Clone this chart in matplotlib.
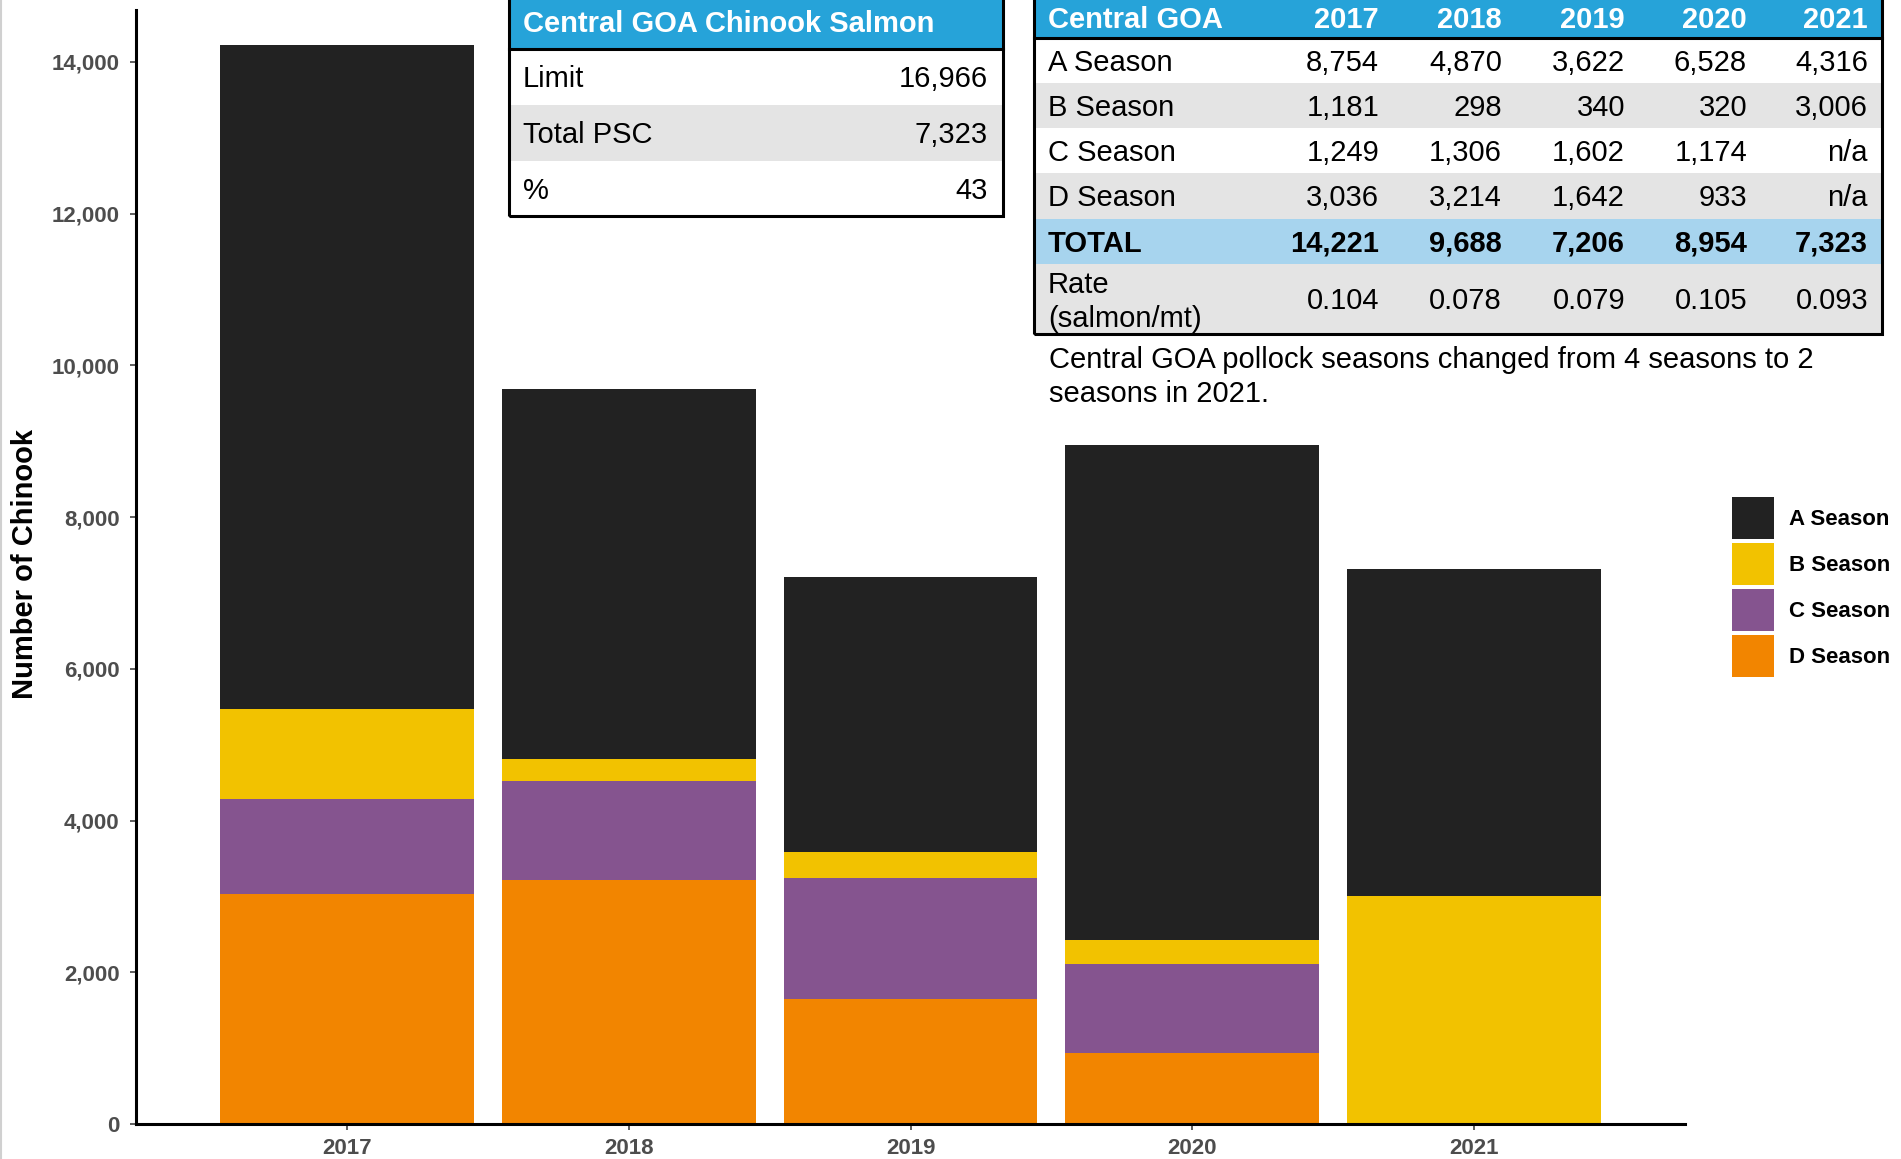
import matplotlib
matplotlib.use("Agg")
import matplotlib.pyplot as plt
from matplotlib.patches import Rectangle, Patch
from matplotlib.lines import Line2D
import numpy as np

# ---- data -------------------------------------------------------------
years = ["2017", "2018", "2019", "2020", "2021"]
a_season = [8754, 4870, 3622, 6528, 4316]
b_season = [1181, 298, 340, 320, 3006]
c_season = [1249, 1306, 1602, 1174, None]   # no C season in 2021
d_season = [3036, 3214, 1642, 933, None]    # no D season in 2021
totals = [14221, 9688, 7206, 8954, 7323]
rates = [0.104, 0.078, 0.079, 0.105, 0.093]
y_ticks = [0, 2000, 4000, 6000, 8000, 10000, 12000, 14000]

psc_title = "Central GOA Chinook Salmon"
psc_labels = ["Limit", "Total PSC", "%"]
psc_values = ["16,966", "7,323", "43"]

note_lines = ["Central GOA pollock seasons changed from 4 seasons to 2",
              "seasons in 2021."]

season_names = ["A Season", "B Season", "C Season", "D Season"]
season_colors = ["#222222", "#F2C200", "#85548F", "#F28500"]

# ---- figure -----------------------------------------------------------
W, H = 1901, 1159
DPI = 100
plt.rcParams["font.family"] = ["Liberation Sans", "DejaVu Sans"]
fig = plt.figure(figsize=(W / DPI, H / DPI), dpi=DPI, facecolor="white")


def fx(px):
    return px / W


def fy(py):
    return 1 - py / H


ax = fig.add_axes([fx(136), fy(1124), (1685 - 136) / W, (1124 - 10) / H])

x = np.arange(len(years))
to_num = lambda seq: np.array([0 if v is None else v for v in seq], float)
stack = [("D Season", to_num(d_season)), ("C Season", to_num(c_season)),
         ("B Season", to_num(b_season)), ("A Season", to_num(a_season))]
color_of = dict(zip(season_names, season_colors))
bottom = np.zeros(len(years))
for name, vals in stack:
    ax.bar(x, vals, width=0.9, bottom=bottom, color=color_of[name],
           edgecolor="none", zorder=2)
    bottom += vals

ax.set_xlim(-0.75, 4.75)
ax.set_ylim(0, 14685)
ax.set_xticks(x)
ax.set_xticklabels(years)
ax.set_yticks(y_ticks)
ax.set_yticklabels([f"{v:,}" for v in y_ticks])
for lab in ax.get_xticklabels() + ax.get_yticklabels():
    lab.set_fontweight("bold")
    lab.set_color("#4D4D4D")
ax.tick_params(axis="both", labelsize=16, length=4.3, width=1.1,
               color="#333333")
ax.tick_params(axis="y", pad=7.5)
ax.tick_params(axis="x", pad=5.5)
for side in ("top", "right"):
    ax.spines[side].set_visible(False)
for side in ("left", "bottom"):
    ax.spines[side].set_linewidth(2.2)
    ax.spines[side].set_color("black")
ax.set_facecolor("white")

ax.set_ylabel("Number of Chinook", fontsize=21, fontweight="bold",
              color="black")
ax.yaxis.set_label_coords((39 - 136) / (1685 - 136), 0.503)

# legend
handles = [Patch(facecolor=c, edgecolor="none", label=n)
           for n, c in zip(season_names, season_colors)]
fig.legend(handles=handles, loc="upper left",
           bbox_to_anchor=(fx(1732), fy(497)), frameon=False,
           prop={"weight": "bold", "size": 16},
           handlelength=1.89, handleheight=2.53, labelspacing=0.18,
           handletextpad=0.68, borderpad=0, borderaxespad=0)

# ---- tables -------------------------------------------------------------
BLUE = "#26A3D9"
LIGHT_BLUE = "#A7D4EE"
GRAY = "#E4E4E4"
FS = 21
CAP = 0.716 * FS * DPI / 72  # cap height in pixels


def cell(x0, y0, x1, y1, color):
    fig.add_artist(Rectangle((fx(x0), fy(y1)), (x1 - x0) / W, (y1 - y0) / H,
                             transform=fig.transFigure, facecolor=color,
                             edgecolor="none", zorder=1))


def box(x0, y0, x1, y1):
    fig.add_artist(Rectangle((fx(x0), fy(y1)), (x1 - x0) / W, (y1 - y0) / H,
                             transform=fig.transFigure, facecolor="none",
                             edgecolor="black", linewidth=2.2, zorder=3))


def hline(x0, x1, y):
    fig.add_artist(Line2D([fx(x0), fx(x1)], [fy(y), fy(y)],
                          transform=fig.transFigure, color="black",
                          linewidth=2.2, zorder=3))


def label(xp, yc, s, ha="left", bold=False, color="black"):
    fig.text(fx(xp), fy(yc + CAP / 2), s, ha=ha, va="baseline", fontsize=FS,
             fontweight="bold" if bold else "normal", color=color, zorder=4)


# PSC summary table
t1_x0, t1_x1 = 509, 1003
cell(t1_x0, -5, t1_x1, 49, BLUE)
t1_rows = [(49, 105), (105, 161), (161, 216)]
for i, (y0, y1) in enumerate(t1_rows):
    cell(t1_x0, y0, t1_x1, y1, GRAY if i % 2 else "white")
box(t1_x0, -5, t1_x1, 216)
hline(t1_x0, t1_x1, 49)
label(523, 22, psc_title, bold=True, color="white")
for (y0, y1), lab, val in zip(t1_rows, psc_labels, psc_values):
    label(523, (y0 + y1) / 2, lab)
    label(988, (y0 + y1) / 2, val, ha="right")

# seasonal breakdown table
t2_x0, t2_x1 = 1034, 1882
col_right = [1379, 1502, 1625, 1747, 1868]
cell(t2_x0, -5, t2_x1, 37, BLUE)
fmt = lambda v: "n/a" if v is None else f"{v:,}"
t2_rows = [
    ("A Season", [fmt(v) for v in a_season], 38, 83, "white", False),
    ("B Season", [fmt(v) for v in b_season], 83, 128, GRAY, False),
    ("C Season", [fmt(v) for v in c_season], 128, 173, "white", False),
    ("D Season", [fmt(v) for v in d_season], 173, 219, GRAY, False),
    ("TOTAL", [f"{v:,}" for v in totals], 219, 264, LIGHT_BLUE, True),
]
for name, vals, y0, y1, col, bold in t2_rows:
    cell(t2_x0, y0, t2_x1, y1, col)
    label(1048, (y0 + y1) / 2, name, bold=bold)
    for xr, s in zip(col_right, vals):
        label(xr, (y0 + y1) / 2, s, ha="right", bold=bold)
cell(t2_x0, 264, t2_x1, 334, GRAY)
label(1048, 283, "Rate")
label(1048, 317, "(salmon/mt)")
for xr, r in zip(col_right, rates):
    label(xr, 299, f"{r:.3f}", ha="right")
box(t2_x0, -5, t2_x1, 334)
hline(t2_x0, t2_x1, 37.5)
label(1048, 18, "Central GOA", bold=True, color="white")
for xr, yr in zip(col_right, years):
    label(xr, 18, yr, ha="right", bold=True, color="white")

# footnote under the table
label(1049, 357.5, note_lines[0])
label(1049, 392, note_lines[1])

# thin frame line on the left edge
fig.add_artist(Line2D([fx(1), fx(1)], [0, 1], transform=fig.transFigure,
                      color="#D0D0D0", linewidth=1.5))

fig.savefig("out.png", dpi=DPI, facecolor="white")
